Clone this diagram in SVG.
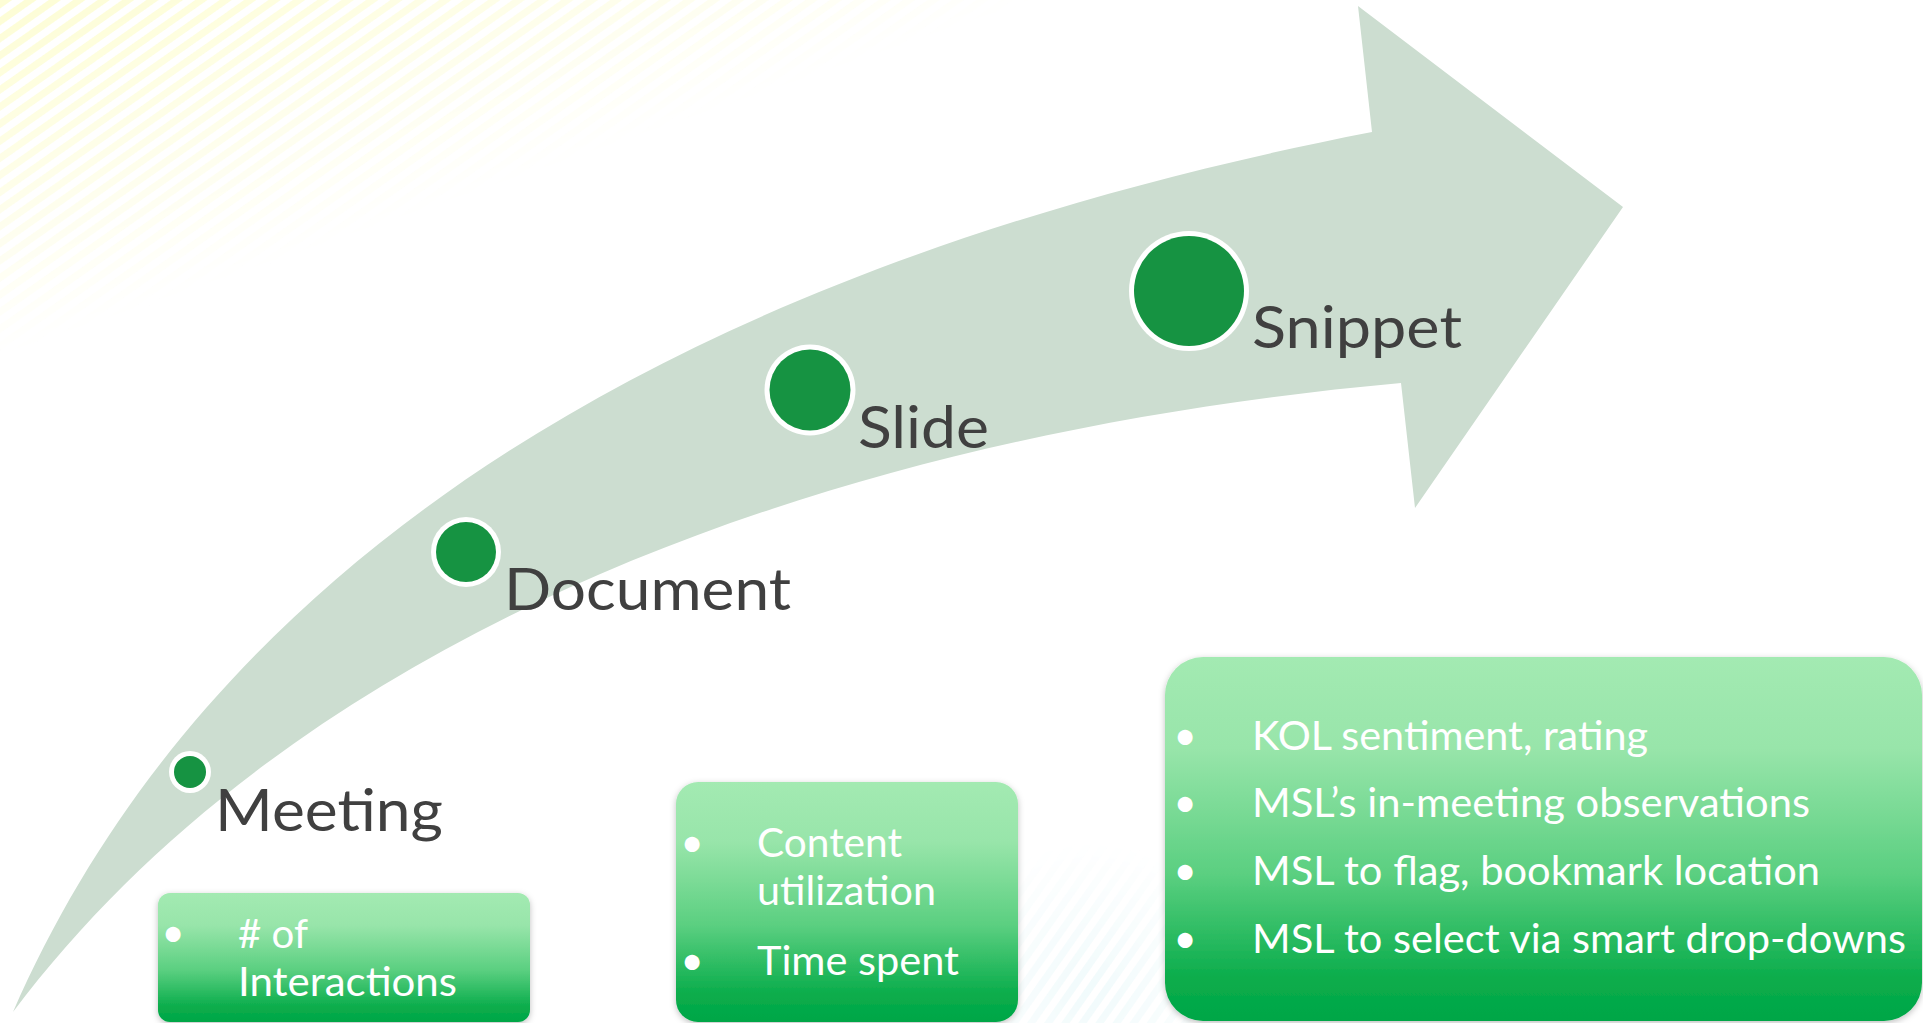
<svg xmlns="http://www.w3.org/2000/svg" width="1923" height="1023" viewBox="0 0 1923 1023">
  <style>
    .label { font-family: Lato, "Open Sans", sans-serif; font-size: 59px; fill: #404040; }
    .btxt { font-family: Lato, "Open Sans", sans-serif; font-size: 40.5px; fill: #ffffff; }
    .bul { font-family: Lato, "Open Sans", sans-serif; font-size: 40px; fill: #ffffff; text-anchor: middle; }
    .ring { fill: #ffffff; }
    .dot { fill: #169342; }
    .box { fill: url(#boxGrad); filter: url(#shadow); }
  </style>
  <defs>
    <linearGradient id="boxGrad" x1="0" y1="0" x2="0" y2="1">
      <stop offset="0" stop-color="#A3EAB2"/>
      <stop offset="0.25" stop-color="#98E5AA"/>
      <stop offset="0.6" stop-color="#5ACF80"/>
      <stop offset="0.88" stop-color="#0BAD4C"/>
      <stop offset="1" stop-color="#00A646"/>
    </linearGradient>
    <filter id="shadow" x="-5%" y="-5%" width="110%" height="115%">
      <feDropShadow dx="0" dy="2" stdDeviation="3" flood-color="#000000" flood-opacity="0.25"/>
    </filter>
    <pattern id="stripes" patternUnits="userSpaceOnUse" width="14" height="14" patternTransform="rotate(-35)">
      <rect x="0" y="0" width="14" height="7" fill="#FDFDD0"/>
    </pattern>
    <pattern id="stripesC" patternUnits="userSpaceOnUse" width="14" height="14" patternTransform="rotate(-55)">
      <rect x="0" y="0" width="14" height="7" fill="#E2F6F8"/>
    </pattern>
    <linearGradient id="fadeTL" x1="0" y1="0" x2="110" y2="320" gradientUnits="userSpaceOnUse">
      <stop offset="0" stop-color="#fff" stop-opacity="0.9"/>
      <stop offset="0.6" stop-color="#fff" stop-opacity="0.4"/>
      <stop offset="1" stop-color="#fff" stop-opacity="0"/>
    </linearGradient>
    <radialGradient id="fadeC" cx="1090" cy="990" r="150" gradientUnits="userSpaceOnUse">
      <stop offset="0" stop-color="#fff" stop-opacity="0.5"/>
      <stop offset="1" stop-color="#fff" stop-opacity="0"/>
    </radialGradient>
    <mask id="maskTL"><rect x="0" y="0" width="1100" height="500" fill="url(#fadeTL)"/></mask>
    <mask id="maskC"><rect x="900" y="780" width="380" height="243" fill="url(#fadeC)"/></mask>
  </defs>

  <rect x="0" y="0" width="1923" height="1023" fill="#ffffff"/>
  <g id="background">
    <rect x="0" y="0" width="1100" height="500" fill="url(#stripes)" mask="url(#maskTL)"/>
    <rect x="900" y="780" width="380" height="243" fill="url(#stripesC)" mask="url(#maskC)"/>
  </g>

  <g id="connectors">
    <path id="arrow" fill="#CCDDD0" d="M 1372,132 L 1358,6 L 1623,207 L 1415,508 L 1401,383 C 783.5,438.8 280,656 13,1012 C 205,572 657,271 1372,132 Z"/>
  </g>

  <g id="node-meeting">
    <circle class="ring" cx="190" cy="772" r="21"/>
    <circle class="dot" cx="190" cy="772" r="16"/>
    <text class="label" x="215" y="831" textLength="228" lengthAdjust="spacingAndGlyphs">Meeting</text>
  </g>
  <g id="node-document">
    <circle class="ring" cx="466" cy="552" r="35"/>
    <circle class="dot" cx="466" cy="552" r="30"/>
    <text class="label" x="504" y="610" textLength="287" lengthAdjust="spacingAndGlyphs">Document</text>
  </g>
  <g id="node-slide">
    <circle class="ring" cx="810" cy="390" r="45.5"/>
    <circle class="dot" cx="810" cy="390" r="40.5"/>
    <text class="label" x="858" y="448" textLength="131" lengthAdjust="spacingAndGlyphs">Slide</text>
  </g>
  <g id="node-snippet">
    <circle class="ring" cx="1189" cy="291" r="60"/>
    <circle class="dot" cx="1189" cy="291" r="55"/>
    <text class="label" x="1252" y="348" textLength="210" lengthAdjust="spacingAndGlyphs">Snippet</text>
  </g>

  <g id="box-meeting">
    <rect class="box" x="158" y="893" width="372" height="129" rx="12" ry="12"/>
    <text class="bul" x="173" y="947">•</text>
    <text class="btxt" x="238" y="948" textLength="70" lengthAdjust="spacingAndGlyphs"># of</text>
    <text class="btxt" x="238" y="996" textLength="219" lengthAdjust="spacingAndGlyphs">Interactions</text>
  </g>
  <g id="box-document">
    <rect class="box" x="676" y="782" width="342" height="240" rx="22" ry="22"/>
    <text class="bul" x="692" y="857">•</text>
    <text class="btxt" x="757" y="857" textLength="145" lengthAdjust="spacingAndGlyphs">Content</text>
    <text class="btxt" x="757" y="905" textLength="179" lengthAdjust="spacingAndGlyphs">utilization</text>
    <text class="bul" x="692" y="975">•</text>
    <text class="btxt" x="757" y="975" textLength="202" lengthAdjust="spacingAndGlyphs">Time spent</text>
  </g>
  <g id="box-snippet">
    <rect class="box" x="1165" y="657" width="757" height="364" rx="38" ry="38"/>
    <text class="bul" x="1185" y="750">•</text>
    <text class="btxt" x="1252" y="750" textLength="396" lengthAdjust="spacingAndGlyphs">KOL sentiment, rating</text>
    <text class="bul" x="1185" y="817">•</text>
    <text class="btxt" x="1252" y="817" textLength="558" lengthAdjust="spacingAndGlyphs">MSL’s in-meeting observations</text>
    <text class="bul" x="1185" y="885">•</text>
    <text class="btxt" x="1252" y="885" textLength="568" lengthAdjust="spacingAndGlyphs">MSL to flag, bookmark location</text>
    <text class="bul" x="1185" y="953">•</text>
    <text class="btxt" x="1252" y="953" textLength="654" lengthAdjust="spacingAndGlyphs">MSL to select via smart drop-downs</text>
  </g>
</svg>
